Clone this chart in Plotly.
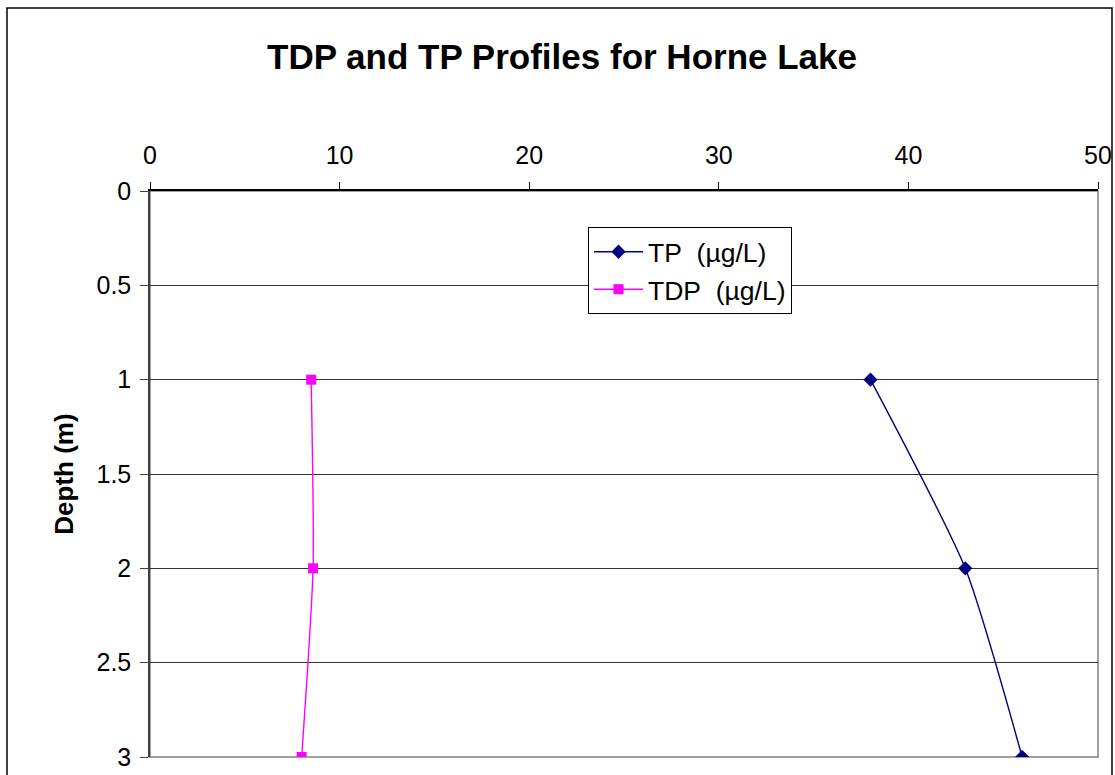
import plotly.graph_objects as go

# Sample depths (m) and phosphorus concentrations (µg/L)
depth = [1, 2, 3]
tp_values = [38, 43, 46]
tdp_values = [8.5, 8.6, 8.0]

x_ticks = [0, 10, 20, 30, 40, 50]
y_ticks = [0, 0.5, 1, 1.5, 2, 2.5, 3]
y_tick_labels = ["0", "0.5", "1", "1.5", "2", "2.5", "3"]

W, H = 1115, 775
L, R, T, B = 150, 17, 191, 18
pw, ph = W - L - R, H - T - B

FONT = "Liberation Sans, Arial, sans-serif"
NB = "\u00a0\u00a0"

fig = go.Figure()
fig.add_trace(go.Scatter(
    x=tp_values, y=depth, name="TP" + NB + "(µg/L)", mode="lines+markers",
    line=dict(color="#000080", width=1.4, shape="spline", smoothing=0.6),
    marker=dict(symbol="diamond", size=11, color="#000080"),
))
fig.add_trace(go.Scatter(
    x=tdp_values, y=depth, name="TDP" + NB + "(µg/L)", mode="lines+markers",
    line=dict(color="#FF00FF", width=1.4, shape="spline", smoothing=0.6),
    marker=dict(symbol="square", size=10, color="#FF00FF"),
))


def px_x(p):
    return (p - L) / pw


def px_y(p):
    return (H - B - p) / ph


shapes = [
    # plot area border
    dict(type="rect", xref="paper", yref="paper", x0=0, x1=1, y0=0, y1=1,
         line=dict(color="#808080", width=1.5), layer="below"),
    # outer chart frame
    dict(type="rect", xref="paper", yref="paper",
         x0=px_x(7), x1=px_x(1112), y0=px_y(800), y1=px_y(8),
         line=dict(color="#000000", width=1.5), layer="below"),
]

fig.update_layout(
    width=W, height=H,
    margin=dict(l=L, r=R, t=T, b=B, autoexpand=False),
    paper_bgcolor="white", plot_bgcolor="white",
    font=dict(family=FONT, size=25, color="black"),
    title=dict(text="<b>TDP and TP Profiles for Horne Lake</b>",
               x=562 / W, xanchor="center", y=1 - 57 / H, yanchor="middle",
               font=dict(size=35, family=FONT)),
    showlegend=True,
    legend=dict(x=px_x(588), y=px_y(227), xanchor="left", yanchor="top",
                bordercolor="black", borderwidth=1, bgcolor="white",
                font=dict(size=26.5, family=FONT), tracegroupgap=0,
                itemwidth=49),
    xaxis=dict(range=[0, 50], side="top", tickvals=x_ticks,
               showgrid=False, zeroline=False, showline=True,
               linecolor="black", linewidth=1.5, ticks="outside",
               ticklen=7, tickcolor="black", tickfont=dict(size=25),
               automargin=False, ticklabelstandoff=8),
    yaxis=dict(range=[3, 0], tickvals=y_ticks, ticktext=y_tick_labels,
               showgrid=True, gridcolor="#333333", gridwidth=1,
               zeroline=False, showline=True, linecolor="#404040",
               linewidth=1.5, ticks="outside", ticklen=8,
               tickcolor="#404040", tickfont=dict(size=25),
               automargin=False, ticklabelstandoff=4,
               title=dict(text="<b>Depth (m)</b>", font=dict(size=26),
                          standoff=15)),
    shapes=shapes,
)

fig.write_html("out.html")
